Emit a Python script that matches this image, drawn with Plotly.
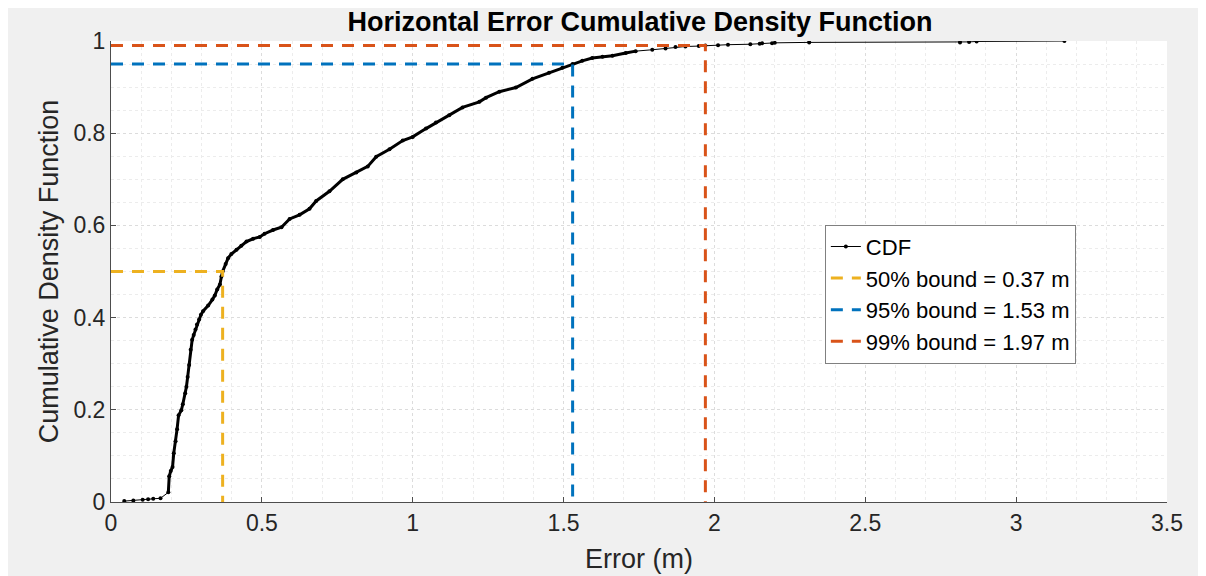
import plotly.graph_objects as go

# --- data ---
error_m = [0.044, 0.074, 0.105, 0.123, 0.140, 0.164, 0.190, 0.193, 0.198, 0.204,
           0.208, 0.214, 0.219, 0.224, 0.233, 0.238, 0.246, 0.250, 0.254, 0.259,
           0.264, 0.269, 0.274, 0.280, 0.285, 0.292, 0.298, 0.305, 0.322, 0.336,
           0.344, 0.352, 0.361, 0.366, 0.370, 0.380, 0.388, 0.399, 0.416, 0.432,
           0.449, 0.471, 0.493, 0.509, 0.537, 0.565, 0.592, 0.625, 0.658, 0.680,
           0.724, 0.768, 0.813, 0.851, 0.879, 0.923, 0.967, 1.000, 1.044, 1.077,
           1.121, 1.165, 1.221, 1.243, 1.287, 1.342, 1.397, 1.452, 1.496, 1.530,
           1.562, 1.595, 1.629, 1.662, 1.706, 1.739, 1.794, 1.838, 1.871, 1.904,
           1.948, 1.970, 2.012, 2.045, 2.119, 2.150, 2.158, 2.191, 2.200, 2.314,
           2.814, 2.844, 2.869, 3.160]
cdf = [0.002, 0.003, 0.005, 0.006, 0.007, 0.008, 0.021, 0.056, 0.067, 0.076,
       0.106, 0.132, 0.158, 0.188, 0.199, 0.212, 0.236, 0.250, 0.271, 0.297,
       0.330, 0.352, 0.362, 0.374, 0.385, 0.396, 0.406, 0.414, 0.426, 0.439,
       0.448, 0.461, 0.472, 0.489, 0.500, 0.516, 0.529, 0.538, 0.547, 0.556,
       0.565, 0.571, 0.575, 0.582, 0.590, 0.596, 0.614, 0.623, 0.636, 0.653,
       0.674, 0.700, 0.715, 0.728, 0.749, 0.765, 0.784, 0.792, 0.810, 0.823,
       0.839, 0.856, 0.868, 0.877, 0.890, 0.899, 0.918, 0.931, 0.942, 0.950,
       0.957, 0.963, 0.966, 0.968, 0.974, 0.978, 0.981, 0.984, 0.987, 0.988,
       0.989, 0.990, 0.991, 0.992, 0.993, 0.994, 0.995, 0.995, 0.996, 0.997,
       0.997, 0.998, 0.999, 1.000]

bound_names = ["50% bound = 0.37 m", "95% bound = 1.53 m", "99% bound = 1.97 m"]
bound_errors = [0.37, 1.53, 1.97]
bound_levels = [0.50, 0.95, 0.99]
bound_colors = ["#EDB120", "#0072BD", "#D95319"]

x_ticks = [0, 0.5, 1, 1.5, 2, 2.5, 3, 3.5]
y_ticks = [0, 0.2, 0.4, 0.6, 0.8, 1]

FONT = "Arial, 'Liberation Sans', sans-serif"
TXT = "#262626"

fig = go.Figure()

# dense part of the curve (many overlapping samples look thick)
dense = [i for i, e in enumerate(error_m) if 0.19 <= e <= 1.75]
fig.add_trace(go.Scatter(
    x=[error_m[i] for i in dense], y=[cdf[i] for i in dense],
    mode="lines", line=dict(color="black", width=3),
    showlegend=False, hoverinfo="skip"))

fig.add_trace(go.Scatter(
    x=error_m, y=cdf, mode="lines+markers", name="CDF",
    line=dict(color="black", width=1),
    marker=dict(color="black", size=4)))

for name, be, bl, col in zip(bound_names, bound_errors, bound_levels, bound_colors):
    fig.add_trace(go.Scatter(
        x=[0, be, be], y=[bl, bl, 0], mode="lines", name=name,
        line=dict(color=col, width=3, dash="12px,9px")))

axis_common = dict(
    showline=True, linecolor="#4d4d4d", linewidth=1,
    ticks="inside", ticklen=5, tickcolor="#4d4d4d",
    tickfont=dict(family=FONT, size=23, color=TXT),
    showgrid=True, gridcolor="#dcdcdc", griddash="dot", gridwidth=1,
    zeroline=False, mirror=False,
)

fig.update_layout(
    width=1206, height=576,
    paper_bgcolor="#F0F0F0", plot_bgcolor="white",
    margin=dict(l=103, r=47, t=33, b=82),
    title=dict(text="<b>Horizontal Error Cumulative Density Function</b>",
               x=(632 / 1206), xanchor="center", y=1 - 14 / 576, yanchor="middle",
               yref="container", xref="container",
               font=dict(family=FONT, size=27, color="black")),
    xaxis=dict(range=[0, 3.5], tickvals=x_ticks,
               title=dict(text="Error (m)", standoff=14,
                          font=dict(family=FONT, size=27, color=TXT)),
               minor=dict(dtick=0.1, showgrid=True, gridcolor="#ececec",
                          griddash="dot", ticks=""),
               **axis_common),
    yaxis=dict(range=[0, 1], tickvals=y_ticks,
               title=dict(text="Cumulative Density Function", standoff=6,
                          font=dict(family=FONT, size=27, color=TXT)),
               minor=dict(dtick=0.05, showgrid=True, gridcolor="#ececec",
                          griddash="dot", ticks=""),
               **axis_common),
    legend=dict(x=0.676, y=0.6015, xanchor="left", yanchor="top",
                bgcolor="white", bordercolor="#808080", borderwidth=1,
                font=dict(family=FONT, size=22, color="black"),
                tracegroupgap=0),
    showlegend=True,
)

fig.write_html("out.html")
